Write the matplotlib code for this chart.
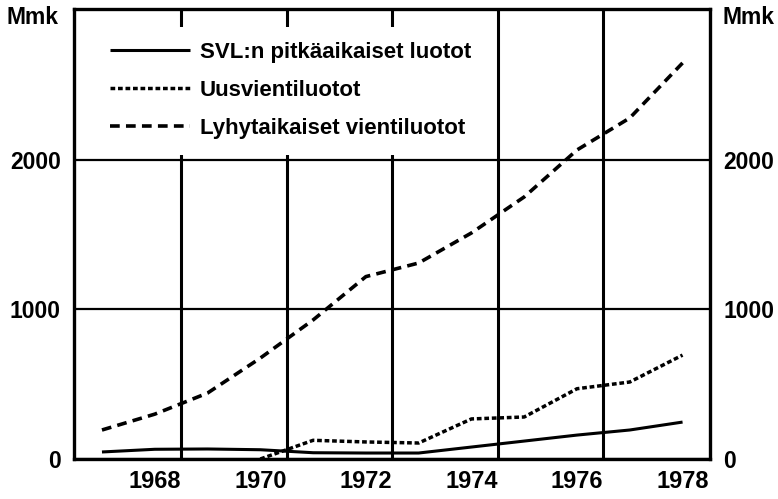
import matplotlib
matplotlib.use("Agg")
import matplotlib.pyplot as plt
from matplotlib.patches import Rectangle

# ---- data (Mmk) ----
years = [1967, 1968, 1969, 1970, 1971, 1972, 1973, 1974, 1975, 1976, 1977, 1978]
svl = [47, 65, 67, 62, 42, 40, 40, 80, 120, 160, 194, 247]
uus_years = [1970, 1971, 1972, 1973, 1974, 1975, 1976, 1977, 1978]
uus = [0, 125, 114, 107, 268, 281, 470, 515, 695]
lyhyt = [194, 300, 441, 675, 930, 1220, 1311, 1512, 1753, 2067, 2281, 2649]

label_svl = "SVL:n pitkäaikaiset luotot"
label_uus = "Uusvientiluotot"
label_lyh = "Lyhytaikaiset vientiluotot"

tick_years = [1968, 1970, 1972, 1974, 1976, 1978]
grid_x = [1968.5, 1970.5, 1972.5, 1974.5, 1976.5]
y_ticks = [0, 1000, 2000]
unit = "Mmk"

plt.rcParams['font.family'] = ['Liberation Sans', 'DejaVu Sans']
plt.rcParams['font.weight'] = 'bold'
plt.rcParams['lines.scale_dashes'] = False

fig = plt.figure(figsize=(7.78, 4.99), dpi=100)
ax = fig.add_axes([74/778, 1 - 459/499, (710-74)/778, (459-9)/499])
ax.set_xlim(1966.47, 1978.52)
ax.set_ylim(0, 3010)

# grid
ax.set_axisbelow(True)
ax.set_xticks(tick_years)
ax.set_xticks(grid_x, minor=True)
ax.set_yticks(y_ticks)
ax.grid(True, which='minor', axis='x', color='black', lw=2.2)
ax.grid(True, which='major', axis='y', color='black', lw=1.6)
ax.tick_params(axis='x', which='major', length=0, pad=8, labelsize=17)
ax.tick_params(axis='x', which='minor', length=0)
ax.tick_params(axis='y', which='major', length=0, pad=9.5, labelsize=16.5,
               left=False, right=False, labelleft=True, labelright=True)
for s in ax.spines.values():
    s.set_linewidth(2.4)
    s.set_zorder(3)

# white area behind legend (hides grid there, leaving short stubs at top)
ax.add_patch(Rectangle((1966.5, 2035), 1974.35 - 1966.5, 2890 - 2035,
                       facecolor='white', edgecolor='none', zorder=1))

ax.plot(years, svl, color='black', lw=2.2, solid_capstyle='butt', zorder=2,
        label=label_svl)
ax.plot(uus_years, uus, color='black', lw=2.5, dashes=(3.4, 2.0), zorder=2,
        label=label_uus)
ax.plot(years, lyhyt, color='black', lw=2.6, dashes=(7.0, 4.5), zorder=2,
        label=label_lyh)

leg = ax.legend(loc='upper left', bbox_to_anchor=(0.0566, 0.9276), frameon=False,
                fontsize=16, handlelength=3.6, handletextpad=0.45,
                labelspacing=0.78, borderaxespad=0, borderpad=0)
leg.set_zorder(4)

fig.text(59/778, 1 - 17/499, unit, ha='right', va='center', fontsize=16.5,
         fontweight='bold')
fig.text(723/778, 1 - 17/499, unit, ha='left', va='center', fontsize=16.5,
         fontweight='bold')

fig.savefig("out.png", dpi=100)
